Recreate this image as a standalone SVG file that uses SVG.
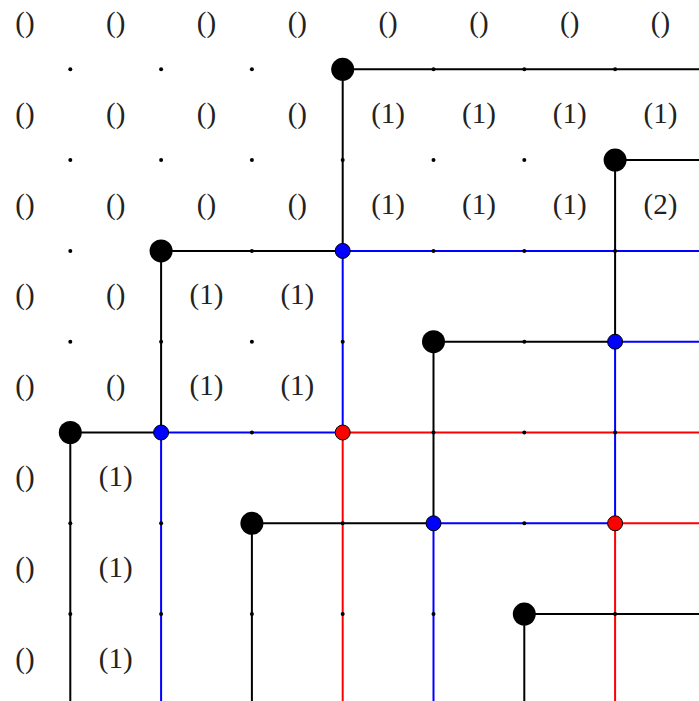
<svg xmlns="http://www.w3.org/2000/svg" width="699" height="701" viewBox="0 0 699 701">
<style>
.k{stroke:#000;stroke-width:2;fill:none}
.b{stroke:#0000ff;stroke-width:2;fill:none}
.r{stroke:#ff0000;stroke-width:2;fill:none}
.big{fill:#000}
.bd{fill:#0000ff;stroke:#000;stroke-width:1}
.rd{fill:#ff0000;stroke:#000;stroke-width:1}
.sm{fill:#000}
text{font-family:"Liberation Serif","Times New Roman",serif;font-size:29px;fill:#222;text-anchor:middle}
</style>
<rect width="699" height="701" fill="#fff"/>
<g id="connectors">
<!-- red -->
<path class="r" d="M342.7,432.5H699M342.7,432.5V701M615.1,523.3H699M615.1,523.3V701"/>
<!-- blue -->
<path class="b" d="M342.7,250.9H699M342.7,250.9V432.5M161.1,432.5H342.7M161.1,432.5V701M615.1,341.7H699M615.1,341.7V523.3M433.5,523.3H615.1M433.5,523.3V701"/>
<!-- black -->
<path class="k" d="M342.7,69.3H699M342.7,69.3V250.9M615.1,160.1H699M615.1,160.1V341.7M161.1,250.9H342.7M161.1,250.9V432.5M433.5,341.7H615.1M433.5,341.7V523.3M70.3,432.5H161.1M70.3,432.5V701M251.9,523.3H433.5M251.9,523.3V701M524.3,614.1H699M524.3,614.1V701"/>
</g>
<g id="grid-points">
<circle class="sm" cx="70.3" cy="69.3" r="2"/><circle class="sm" cx="161.1" cy="69.3" r="2"/><circle class="sm" cx="251.9" cy="69.3" r="2"/><circle class="sm" cx="433.5" cy="69.3" r="2"/><circle class="sm" cx="524.3" cy="69.3" r="2"/><circle class="sm" cx="615.1" cy="69.3" r="2"/>
<circle class="sm" cx="70.3" cy="160.1" r="2"/><circle class="sm" cx="161.1" cy="160.1" r="2"/><circle class="sm" cx="251.9" cy="160.1" r="2"/><circle class="sm" cx="342.7" cy="160.1" r="2"/><circle class="sm" cx="433.5" cy="160.1" r="2"/><circle class="sm" cx="524.3" cy="160.1" r="2"/>
<circle class="sm" cx="70.3" cy="250.9" r="2"/><circle class="sm" cx="251.9" cy="250.9" r="2"/><circle class="sm" cx="433.5" cy="250.9" r="2"/><circle class="sm" cx="524.3" cy="250.9" r="2"/><circle class="sm" cx="615.1" cy="250.9" r="2"/>
<circle class="sm" cx="70.3" cy="341.7" r="2"/><circle class="sm" cx="161.1" cy="341.7" r="2"/><circle class="sm" cx="251.9" cy="341.7" r="2"/><circle class="sm" cx="342.7" cy="341.7" r="2"/><circle class="sm" cx="524.3" cy="341.7" r="2"/>
<circle class="sm" cx="251.9" cy="432.5" r="2"/><circle class="sm" cx="433.5" cy="432.5" r="2"/><circle class="sm" cx="524.3" cy="432.5" r="2"/><circle class="sm" cx="615.1" cy="432.5" r="2"/>
<circle class="sm" cx="70.3" cy="523.3" r="2"/><circle class="sm" cx="161.1" cy="523.3" r="2"/><circle class="sm" cx="342.7" cy="523.3" r="2"/><circle class="sm" cx="524.3" cy="523.3" r="2"/>
<circle class="sm" cx="70.3" cy="614.1" r="2"/><circle class="sm" cx="161.1" cy="614.1" r="2"/><circle class="sm" cx="251.9" cy="614.1" r="2"/><circle class="sm" cx="342.7" cy="614.1" r="2"/><circle class="sm" cx="433.5" cy="614.1" r="2"/><circle class="sm" cx="615.1" cy="614.1" r="2"/>
</g>
<g id="start-3-0"><circle class="big" cx="342.7" cy="69.3" r="11.5"/></g>
<g id="start-6-1"><circle class="big" cx="615.1" cy="160.1" r="11.5"/></g>
<g id="start-1-2"><circle class="big" cx="161.1" cy="250.9" r="11.5"/></g>
<g id="start-4-3"><circle class="big" cx="433.5" cy="341.7" r="11.5"/></g>
<g id="start-0-4"><circle class="big" cx="70.3" cy="432.5" r="11.5"/></g>
<g id="start-2-5"><circle class="big" cx="251.9" cy="523.3" r="11.5"/></g>
<g id="start-5-6"><circle class="big" cx="524.3" cy="614.1" r="11.5"/></g>
<g id="blue-3-2"><circle class="bd" cx="342.7" cy="250.9" r="7.5"/></g>
<g id="blue-6-3"><circle class="bd" cx="615.1" cy="341.7" r="7.5"/></g>
<g id="blue-1-4"><circle class="bd" cx="161.1" cy="432.5" r="7.5"/></g>
<g id="blue-4-5"><circle class="bd" cx="433.5" cy="523.3" r="7.5"/></g>
<g id="red-3-4"><circle class="rd" cx="342.7" cy="432.5" r="7.5"/></g>
<g id="red-6-5"><circle class="rd" cx="615.1" cy="523.3" r="7.5"/></g>
<g id="labels">
<text x="24.9" y="32">()</text><text x="115.7" y="32">()</text><text x="206.5" y="32">()</text><text x="297.3" y="32">()</text><text x="388.1" y="32">()</text><text x="478.9" y="32">()</text><text x="569.7" y="32">()</text><text x="660.5" y="32">()</text>
<text x="24.9" y="122.8">()</text><text x="115.7" y="122.8">()</text><text x="206.5" y="122.8">()</text><text x="297.3" y="122.8">()</text><text x="388.1" y="122.8">(1)</text><text x="478.9" y="122.8">(1)</text><text x="569.7" y="122.8">(1)</text><text x="660.5" y="122.8">(1)</text>
<text x="24.9" y="213.6">()</text><text x="115.7" y="213.6">()</text><text x="206.5" y="213.6">()</text><text x="297.3" y="213.6">()</text><text x="388.1" y="213.6">(1)</text><text x="478.9" y="213.6">(1)</text><text x="569.7" y="213.6">(1)</text><text x="660.5" y="213.6">(2)</text>
<text x="24.9" y="304.4">()</text><text x="115.7" y="304.4">()</text><text x="206.5" y="304.4">(1)</text><text x="297.3" y="304.4">(1)</text>
<text x="24.9" y="395.2">()</text><text x="115.7" y="395.2">()</text><text x="206.5" y="395.2">(1)</text><text x="297.3" y="395.2">(1)</text>
<text x="24.9" y="486">()</text><text x="115.7" y="486">(1)</text>
<text x="24.9" y="576.8">()</text><text x="115.7" y="576.8">(1)</text>
<text x="24.9" y="667.6">()</text><text x="115.7" y="667.6">(1)</text>
</g>
</svg>
